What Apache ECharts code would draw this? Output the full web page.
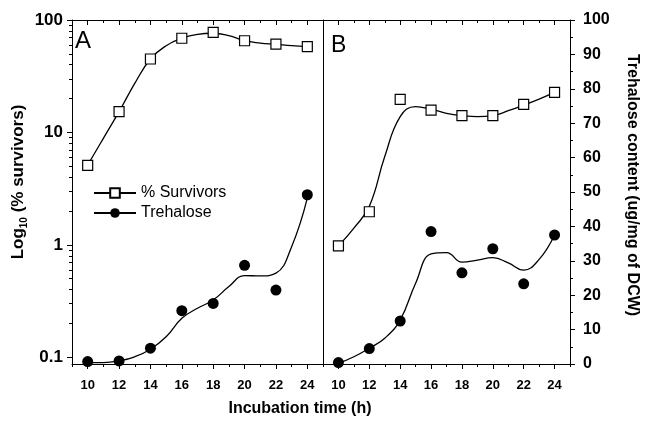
<!DOCTYPE html>
<html>
<head>
<meta charset="utf-8">
<script src="https://cdn.jsdelivr.net/npm/echarts@6/dist/echarts.min.js"></script>
<style>
  html, body { margin: 0; padding: 0; background: #fff; }
  #chart { width: 645px; height: 421px; }
</style>
</head>
<body>
<div id="chart"></div>
<script>
const xPts = [10, 12, 14, 16, 18, 20, 22, 24];
const fitX = [10, 11, 12, 13, 14, 15, 16, 17, 18, 19, 20, 21, 22, 23, 24];

// panel A
const aSurv = [5.1, 15.3, 45, 68.8, 77.7, 65.4, 61, 58];
const aSurvFit = [5.13, 8.86, 15.3, 27.3, 45.0, 59.1, 68.8, 74.6, 76.2, 72.5, 65.4, 62.4, 60.8, 59.1, 57.9];
const aTre = [0.7, 0.9, 4.6, 15.5, 17.6, 28.7, 21.5, 49.2];
const aTreFit = [0.4, 0.4, 0.9, 2.1, 4.3, 7.9, 13.3, 16.2, 18.6, 22.5, 25.7, 25.6, 26.4, 34.1, 48.2];

// panel B
const bSurv = [0.98, 1.97, 19.7, 15.8, 14.1, 14.1, 17.8, 22.7];
const bSurvFit = [0.98, 1.41, 2.2, 6.1, 13.8, 17.0, 16.1, 14.8, 14.1, 13.8, 14.1, 15.6, 17.5, 19.8, 22.7];
const bTre = [0.4, 4.5, 12.5, 38.5, 26.5, 33.5, 23.3, 37.5];
const bTreFit = [0.2, 2.1, 4.6, 7.5, 12.8, 23.5, 32.0, 32.4, 29.6, 30.2, 30.9, 29.4, 27.3, 30.4, 37.5];

// ticks
const xMajor = [10, 12, 14, 16, 18, 20, 22, 24];
const xMinor = [9, 11, 13, 15, 17, 19, 21, 23, 25];
const logMajor = [0.1, 1, 10, 100];
const logMinor = [0.2, 0.3, 0.4, 0.5, 0.6, 0.7, 0.8, 0.9, 2, 3, 4, 5, 6, 7, 8, 9, 20, 30, 40, 50, 60, 70, 80, 90];

const FONT = 'Liberation Sans, Arial, sans-serif';
const LOG_MIN = 0.0872;

const pairs = (xs, ys) => xs.map((x, i) => [x, ys[i]]);

function xAxes(grid) {
  const base = { gridIndex: grid, type: 'value', min: 9, max: 25, splitLine: { show: false } };
  return [
    Object.assign({}, base, {
      position: 'bottom',
      axisLine: { lineStyle: { color: '#000', width: 1 } },
      axisTick: { customValues: xMajor, length: 5, lineStyle: { color: '#000' } },
      axisLabel: { customValues: xMajor, color: '#000', fontWeight: 'bold', fontSize: 13, fontFamily: FONT, margin: 15 }
    }),
    Object.assign({}, base, {
      position: 'bottom',
      axisLine: { show: false },
      axisTick: { customValues: xMinor, length: 3, lineStyle: { color: '#000' } },
      axisLabel: { show: false }
    }),
    Object.assign({}, base, {
      position: 'top',
      axisLine: { lineStyle: { color: '#000', width: 1 } },
      axisTick: { customValues: xMajor, inside: true, length: 5, lineStyle: { color: '#000' } },
      axisLabel: { show: false }
    }),
    Object.assign({}, base, {
      position: 'top',
      axisLine: { show: false },
      axisTick: { customValues: xMinor, inside: true, length: 3, lineStyle: { color: '#000' } },
      axisLabel: { show: false }
    })
  ];
}

function curve(name, xi, yi, ys, symbol) {
  return {
    name: name, type: 'line', xAxisIndex: xi, yAxisIndex: yi,
    data: pairs(fitX, ys), smooth: 0.45, symbol: symbol, symbolSize: 10, showSymbol: false,
    lineStyle: { color: '#000', width: 1.3 }, itemStyle: { color: '#000' }, z: 2
  };
}

function points(name, xi, yi, ys, kind) {
  const s = {
    name: name, type: 'scatter', xAxisIndex: xi, yAxisIndex: yi,
    data: pairs(xPts, ys), z: 3
  };
  if (kind === 'rect') {
    s.symbol = 'rect';
    s.symbolSize = 10;
    s.itemStyle = { color: '#fff', borderColor: '#000', borderWidth: 1.2, opacity: 1 };
  } else {
    s.symbol = 'circle';
    s.symbolSize = 11;
    s.itemStyle = { color: '#000', opacity: 1 };
  }
  return s;
}

const chart = echarts.init(document.getElementById('chart'));

chart.setOption({
  animation: false,
  backgroundColor: '#fff',
  grid: [
    { left: 72, top: 20, width: 251, height: 344 },
    { left: 323, top: 20, width: 247, height: 344 }
  ],
  xAxis: xAxes(0).concat(xAxes(1)),
  yAxis: [
    {
      gridIndex: 0, type: 'log', position: 'left', min: LOG_MIN, max: 100,
      splitLine: { show: false },
      axisLine: { show: true, lineStyle: { color: '#000', width: 1 } },
      axisTick: { customValues: logMajor, length: 5, lineStyle: { color: '#000' } },
      axisLabel: {
        customValues: logMajor, color: '#000', fontWeight: 'bold', fontSize: 17, fontFamily: FONT, margin: 9,
        formatter: (v) => String(+(+v).toPrecision(3))
      }
    },
    {
      gridIndex: 0, type: 'log', position: 'left', min: LOG_MIN, max: 100,
      splitLine: { show: false },
      axisLine: { show: false },
      axisTick: { customValues: logMinor, length: 3, lineStyle: { color: '#000' } },
      axisLabel: { show: false }
    },
    { gridIndex: 0, type: 'value', min: 0, max: 100, show: false },
    {
      gridIndex: 1, type: 'value', position: 'right', min: 0, max: 100, interval: 10,
      splitLine: { show: false },
      axisLine: { show: true, lineStyle: { color: '#000', width: 1 } },
      axisTick: { length: 5, lineStyle: { color: '#000' } },
      minorTick: { show: true, splitNumber: 2, length: 3, lineStyle: { color: '#000' } },
      axisLabel: { color: '#000', fontWeight: 'bold', fontSize: 16, fontFamily: FONT, margin: 13 }
    },
    {
      gridIndex: 1, type: 'log', position: 'left', min: LOG_MIN, max: 100,
      splitLine: { show: false },
      axisLine: { show: true, lineStyle: { color: '#000', width: 1 } },
      axisTick: { show: false },
      axisLabel: { show: false }
    }
  ],
  legend: {
    data: ['% Survivors', 'Trehalose'],
    orient: 'vertical', left: 88, top: 180,
    itemWidth: 42, itemHeight: 12, itemGap: 4,
    selectedMode: false,
    textStyle: { color: '#000', fontSize: 16, fontFamily: FONT }
  },
  graphic: [
    { type: 'text', left: 75, top: 29, style: { text: 'A', font: '24px ' + FONT, fill: '#000' } },
    { type: 'text', left: 331, top: 34, style: { text: 'B', font: '23px ' + FONT, fill: '#000' } },
    {
      type: 'text', x: 300, y: 409,
      style: { text: 'Incubation time (h)', font: 'bold 16px ' + FONT, fill: '#000', align: 'center', verticalAlign: 'middle' }
    },
    {
      type: 'text', x: 18, y: 182, rotation: Math.PI / 2,
      style: {
        text: '{a|Log}{s|10}{a| (% survivors)}', align: 'center', verticalAlign: 'middle', fill: '#000',
        rich: {
          a: { fontSize: 17, fontWeight: 'bold', fontFamily: FONT, lineHeight: 22, verticalAlign: 'middle', fill: '#000' },
          s: { fontSize: 10, fontWeight: 'bold', fontFamily: FONT, verticalAlign: 'bottom', fill: '#000' }
        }
      }
    },
    {
      type: 'text', x: 632, y: 185, rotation: -Math.PI / 2,
      style: { text: 'Trehalose content (ug/mg of DCW)', font: 'bold 16px ' + FONT, fill: '#000', align: 'center', verticalAlign: 'middle' }
    }
  ],
  series: [
    curve('% Survivors', 0, 0, aSurvFit, 'emptyRect'),
    points('A survivors', 0, 0, aSurv, 'rect'),
    curve('Trehalose', 0, 2, aTreFit, 'circle'),
    points('A trehalose', 0, 2, aTre, 'circle'),
    curve('B survivors fit', 4, 4, bSurvFit, 'emptyRect'),
    points('B survivors', 4, 4, bSurv, 'rect'),
    curve('B trehalose fit', 4, 3, bTreFit, 'circle'),
    points('B trehalose', 4, 3, bTre, 'circle')
  ]
});
</script>
</body>
</html>
